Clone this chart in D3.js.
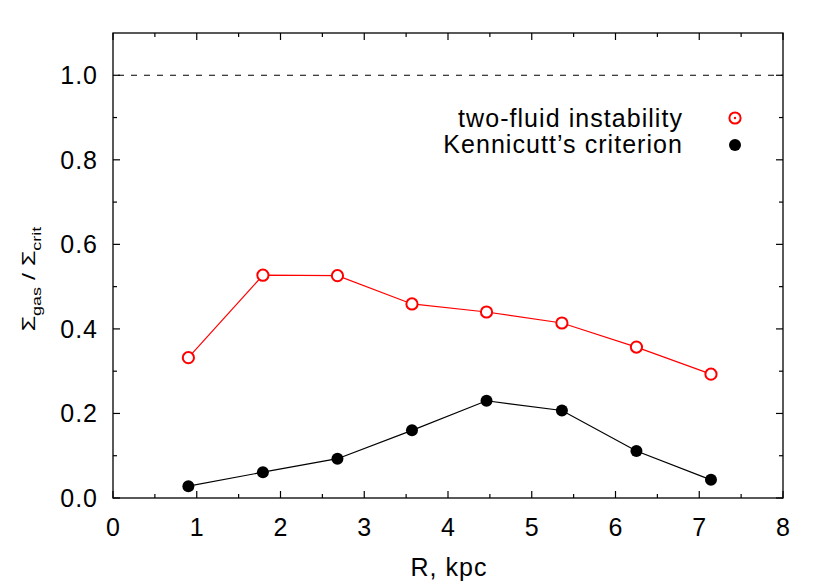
<!DOCTYPE html>
<meta charset="utf-8">
<title>Sigma gas / Sigma crit</title>
<style>
body { margin: 0; background: #fff; }
text { font-family: "Liberation Sans", Arial, Helvetica, sans-serif; fill: #000; }
</style>
<svg width="830" height="581"></svg>
<script src="https://d3js.org/d3.v7.min.js"></script>
<script>

// radius, kpc
var radius = [0.9, 1.79, 2.68, 3.57, 4.46, 5.36, 6.25, 7.14];
// two-fluid instability
var twoFluid = [0.332, 0.527, 0.526, 0.459, 0.440, 0.414, 0.357, 0.293];
// Kennicutt's criterion
var kennicutt = [0.028, 0.061, 0.093, 0.160, 0.230, 0.207, 0.111, 0.043];

var xTicks = [0, 1, 2, 3, 4, 5, 6, 7, 8];
var yTicks = [0, 0.2, 0.4, 0.6, 0.8, 1.0];
var legendNames = ["two-fluid instability", "Kennicutt\u2019s criterion"];

var svg = d3.select("svg");

var pLeft = 113, pRight = 783, pTop = 33, pBottom = 498;

var x = d3.scaleLinear().domain([0, 8]).range([pLeft, pRight]);
var y = d3.scaleLinear().domain([0, 1.1]).range([pBottom, pTop]);

// minor ticks every 0.5 / 0.1
var xMinor = d3.range(0.5, 8, 1);
var yMinor = d3.range(0.1, 1.1, 0.2);

var axes = svg.append("g").attr("stroke", "#000").attr("stroke-width", 1.2);

function ticks(vals, len, horizontal) {
  vals.forEach(function(v) {
    if (horizontal) {
      axes.append("line").attr("x1", x(v)).attr("x2", x(v)).attr("y1", pBottom).attr("y2", pBottom - len);
      axes.append("line").attr("x1", x(v)).attr("x2", x(v)).attr("y1", pTop).attr("y2", pTop + len);
    } else {
      axes.append("line").attr("y1", y(v)).attr("y2", y(v)).attr("x1", pLeft).attr("x2", pLeft + len);
      axes.append("line").attr("y1", y(v)).attr("y2", y(v)).attr("x1", pRight).attr("x2", pRight - len);
    }
  });
}
ticks(xTicks, 7, true);
ticks(xMinor, 4, true);
ticks(yTicks, 7, false);
ticks(yMinor, 4, false);

// dashed line at 1.0
svg.append("line")
    .attr("x1", pLeft).attr("x2", pRight)
    .attr("y1", y(1)).attr("y2", y(1))
    .attr("stroke", "#000").attr("stroke-width", 1.2)
    .attr("stroke-dasharray", "6,7")
    .attr("stroke-dashoffset", -5);

// tick labels
svg.append("g").selectAll("text")
    .data(xTicks).enter().append("text")
    .attr("x", function(d) { return x(d) + 0.5; })
    .attr("y", 536)
    .attr("text-anchor", "middle")
    .attr("font-size", 25)
    .attr("letter-spacing", 1)
    .text(function(d) { return d; });

svg.append("g").selectAll("text")
    .data(yTicks).enter().append("text")
    .attr("x", 98)
    .attr("y", function(d) { return y(d) + 9; })
    .attr("text-anchor", "end")
    .attr("font-size", 25)
    .attr("letter-spacing", 1)
    .text(function(d) { return d3.format(".1f")(d); });

// axis titles
svg.append("text")
    .attr("x", 449).attr("y", 576)
    .attr("text-anchor", "middle")
    .attr("font-size", 25)
    .attr("letter-spacing", 1)
    .text("R, kpc");

var ylab = svg.append("text")
    .attr("transform", "translate(35,279) rotate(-90) scale(1,0.75)")
    .attr("text-anchor", "middle")
    .attr("font-size", 25);
ylab.append("tspan").text("\u03a3");
ylab.append("tspan").attr("font-size", 18).attr("dy", 8).text("gas");
ylab.append("tspan").attr("dy", -8).text(" / \u03a3");
ylab.append("tspan").attr("font-size", 18).attr("dy", 8).text("crit");

// series
var line = d3.line()
    .x(function(d, i) { return x(radius[i]); })
    .y(function(d) { return y(d); });

svg.append("path").datum(twoFluid)
    .attr("d", line).attr("fill", "none")
    .attr("stroke", "#ff0000").attr("stroke-width", 1.2);

svg.append("path").datum(kennicutt)
    .attr("d", line).attr("fill", "none")
    .attr("stroke", "#000").attr("stroke-width", 1.2);

svg.append("g").selectAll("circle")
    .data(twoFluid).enter().append("circle")
    .attr("cx", function(d, i) { return x(radius[i]); })
    .attr("cy", function(d) { return y(d); })
    .attr("r", 5.6)
    .attr("fill", "#fff")
    .attr("stroke", "#ff0000").attr("stroke-width", 2);

svg.append("g").selectAll("circle")
    .data(kennicutt).enter().append("circle")
    .attr("cx", function(d, i) { return x(radius[i]); })
    .attr("cy", function(d) { return y(d); })
    .attr("r", 6)
    .attr("fill", "#000");

// legend
var leg = svg.append("g");
leg.selectAll("text")
    .data(legendNames).enter().append("text")
    .attr("x", 683)
    .attr("y", function(d, i) { return 127 + i * 26; })
    .attr("text-anchor", "end")
    .attr("font-size", 25)
    .attr("letter-spacing", 1.05)
    .text(function(d) { return d; });

leg.append("circle").attr("cx", 735).attr("cy", 118).attr("r", 5.6)
    .attr("fill", "#fff").attr("stroke", "#ff0000").attr("stroke-width", 2);
leg.append("circle").attr("cx", 735).attr("cy", 118).attr("r", 1.2)
    .attr("fill", "#ff0000");
leg.append("circle").attr("cx", 735).attr("cy", 145).attr("r", 6)
    .attr("fill", "#000");

// border
svg.append("rect")
    .attr("x", pLeft).attr("y", pTop)
    .attr("width", pRight - pLeft).attr("height", pBottom - pTop)
    .attr("fill", "none").attr("stroke", "#000").attr("stroke-width", 1.3);

</script>
